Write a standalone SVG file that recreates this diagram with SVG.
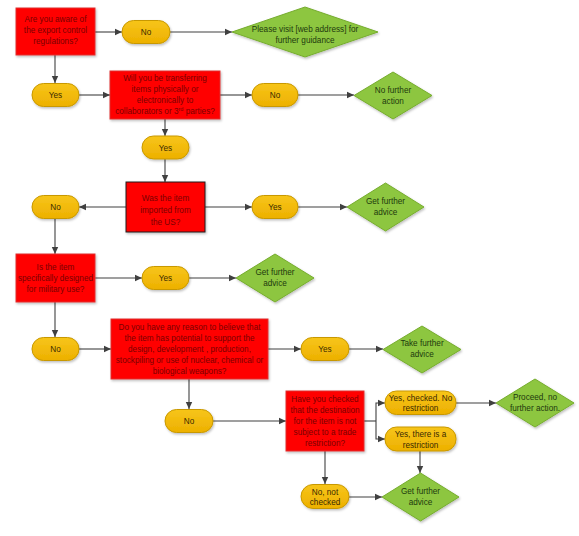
<svg xmlns="http://www.w3.org/2000/svg" width="579" height="536" viewBox="0 0 579 536">
<defs>
<linearGradient id="gold" x1="0" y1="0" x2="0" y2="1"><stop offset="0" stop-color="#F7C51A"/><stop offset="1" stop-color="#EDB000"/></linearGradient>
<marker id="ah" markerWidth="8" markerHeight="8" refX="7" refY="4" orient="auto" markerUnits="userSpaceOnUse"><path d="M0,0.8 L7,4 L0,7.2 Z" fill="#404040"/></marker>
<filter id="sh" x="-10%" y="-10%" width="130%" height="140%"><feDropShadow dx="1" dy="1.5" stdDeviation="1" flood-color="#000" flood-opacity="0.25"/></filter>
</defs>
<style>
text{font-family:"Liberation Sans",Arial,sans-serif;font-size:8.2px;text-anchor:middle}
.q rect{fill:#FF0000;stroke:#E03030;stroke-width:1;filter:url(#sh)}
.q text{fill:#7A0000}
.q.b rect{stroke:#202020}
.p rect{fill:url(#gold);stroke:#C89800;stroke-width:1;filter:url(#sh)}
.p text{fill:#3A2A00}
.d polygon{fill:#8DC63F;stroke:#76AC2E;stroke-width:1;filter:url(#sh)}
.d text{fill:#1E3A0E}
#connectors path{fill:none;stroke:#404040;stroke-width:1.1;marker-end:url(#ah)}
#connectors path.n{marker-end:none}
</style>
<rect width="579" height="536" fill="#FFFFFF"/>
<g id="connectors">
<path d="M95,32 H122"/>
<path d="M170,32 H232"/>
<path d="M55,55 V83"/>
<path d="M79,95 H110"/>
<path d="M220,95 H252"/>
<path d="M298,95 H354"/>
<path d="M165,119 V136"/>
<path d="M165,159 V182"/>
<path d="M126,207 H79"/>
<path d="M205,207 H252"/>
<path d="M298,207 H347"/>
<path d="M55,219 V254"/>
<path d="M95,278 H142"/>
<path d="M189,278 H236"/>
<path d="M55,302 V337"/>
<path d="M79,349 H111"/>
<path d="M268,349 H301"/>
<path d="M349,349 H383"/>
<path d="M189,379 V409"/>
<path d="M213,421 H286"/>
<path class="n" d="M364,421 H376"/>
<path d="M376,421 V403 H385"/>
<path d="M376,421 V439 H385"/>
<path d="M456,403 H496"/>
<path d="M420,451 V473"/>
<path d="M325,451 V484"/>
<path d="M349,497 H382"/>
</g>
<g id="q1" class="q"><rect x="16" y="8" width="79" height="47"/><text x="55.5" y="22">Are you aware of</text><text x="55.5" y="33">the export control</text><text x="55.5" y="44">regulations?</text></g>
<g id="a1" class="p"><rect x="122" y="20.5" width="48" height="23" rx="11.5"/><text x="146" y="35">No</text></g>
<g id="r1" class="d"><polygon points="232,32 305,7 378,32 305,57"/><text x="305" y="32">Please visit [web address] for</text><text x="305" y="43">further guidance</text></g>
<g id="a2" class="p"><rect x="32" y="83.5" width="47" height="23" rx="11.5"/><text x="55.5" y="98">Yes</text></g>
<g id="q2" class="q"><rect x="110" y="71" width="110" height="48"/><text x="165" y="81">Will you be transferring</text><text x="165" y="92">items physically or</text><text x="165" y="103">electronically to</text><text x="165" y="114">collaborators or 3<tspan dy="-3" font-size="5.5">rd</tspan><tspan dy="3"> parties?</tspan></text></g>
<g id="a3" class="p"><rect x="252" y="83.5" width="46" height="23" rx="11.5"/><text x="275" y="98">No</text></g>
<g id="r2" class="d"><polygon points="354,95.5 393,72 432,95.5 393,119"/><text x="393" y="93">No further</text><text x="393" y="104">action</text></g>
<g id="a4" class="p"><rect x="142" y="136" width="47" height="23" rx="11.5"/><text x="165.5" y="150.5">Yes</text></g>
<g id="q3" class="q b"><rect x="126" y="182" width="79" height="50"/><text x="165.5" y="201">Was the item</text><text x="165.5" y="213">imported from</text><text x="165.5" y="225">the US?</text></g>
<g id="a5" class="p"><rect x="32" y="195.5" width="47" height="23" rx="11.5"/><text x="55.5" y="210">No</text></g>
<g id="a6" class="p"><rect x="252" y="195.5" width="46" height="23" rx="11.5"/><text x="275" y="210">Yes</text></g>
<g id="r3" class="d"><polygon points="347,207 385.5,183 424,207 385.5,231"/><text x="385.5" y="204">Get further</text><text x="385.5" y="215">advice</text></g>
<g id="q4" class="q"><rect x="16" y="254" width="79" height="48"/><text x="55.5" y="270">Is the item</text><text x="55.5" y="281">specifically designed</text><text x="55.5" y="292">for military use?</text></g>
<g id="a7" class="p"><rect x="142" y="266.5" width="47" height="23" rx="11.5"/><text x="165.5" y="281">Yes</text></g>
<g id="r4" class="d"><polygon points="236,278 275,254 314,278 275,302"/><text x="275" y="275">Get further</text><text x="275" y="286">advice</text></g>
<g id="a8" class="p"><rect x="32" y="337.5" width="47" height="23" rx="11.5"/><text x="55.5" y="352">No</text></g>
<g id="q5" class="q"><rect x="111" y="319" width="157" height="60"/><text x="189.5" y="330">Do you have any reason to believe that</text><text x="189.5" y="341">the item has potential to support the</text><text x="189.5" y="352">design, development , production,</text><text x="189.5" y="363">stockpiling or use of nuclear, chemical or</text><text x="189.5" y="374">biological weapons?</text></g>
<g id="a9" class="p"><rect x="301" y="337.5" width="48" height="23" rx="11.5"/><text x="325" y="352">Yes</text></g>
<g id="r5" class="d"><polygon points="383,349.5 422,326 461,349.5 422,373"/><text x="422" y="346">Take further</text><text x="422" y="357">advice</text></g>
<g id="a10" class="p"><rect x="165" y="409.5" width="48" height="23" rx="11.5"/><text x="189" y="424">No</text></g>
<g id="q6" class="q"><rect x="286" y="391" width="78" height="60"/><text x="325" y="402">Have you checked</text><text x="325" y="413">that the destination</text><text x="325" y="424">for the item is not</text><text x="325" y="435">subject to a trade</text><text x="325" y="446">restriction?</text></g>
<g id="a11" class="p"><rect x="385" y="391" width="71" height="23.5" rx="11.5"/><text x="420.5" y="400.5">Yes, checked. No</text><text x="420.5" y="411">restriction</text></g>
<g id="a12" class="p"><rect x="385" y="427" width="71" height="24" rx="11.5"/><text x="420.5" y="437">Yes, there is a</text><text x="420.5" y="447.5">restriction</text></g>
<g id="r6" class="d"><polygon points="496,403 535,379 574,403 535,427"/><text x="535" y="400">Proceed, no</text><text x="535" y="411">further action.</text></g>
<g id="a13" class="p"><rect x="301" y="484.5" width="48" height="24" rx="12"/><text x="325" y="494.5">No, not</text><text x="325" y="505">checked</text></g>
<g id="r7" class="d"><polygon points="382,497 420.5,473 459,497 420.5,521"/><text x="420.5" y="494">Get further</text><text x="420.5" y="505">advice</text></g>
</svg>
